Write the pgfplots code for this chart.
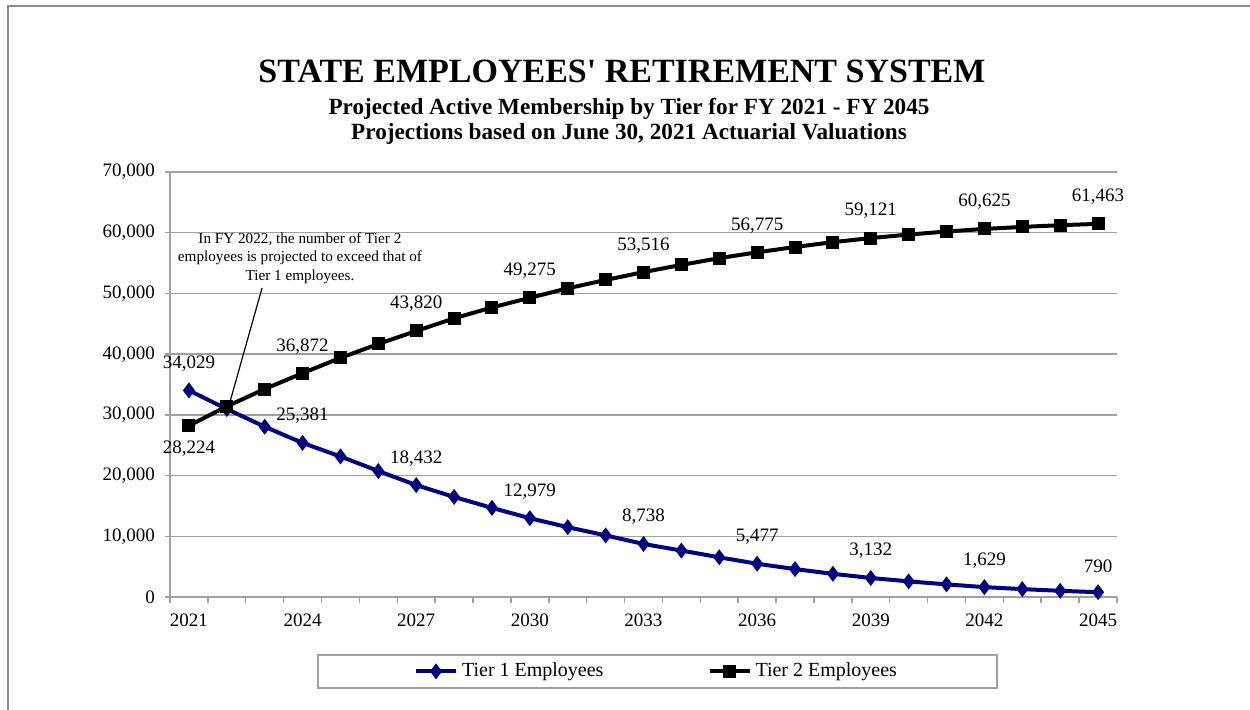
\documentclass[border=0pt]{standalone}
\usepackage{fontspec}
\setmainfont{Liberation Serif}
\usepackage{pgfplots}
\pgfplotsset{compat=1.18}
\usepackage{pgfplotstable}

\definecolor{tierone}{HTML}{000080}
\definecolor{gridgray}{HTML}{A0A0A0}
\definecolor{framegray}{HTML}{8C8C8C}

% active members by tier, labels on every third year
\pgfplotstableread{
year t1 l1 t2 l2
2021 34029 34,029 28224 {}
2022 30960 {} 31400 {}
2023 28050 {} 34250 {}
2024 25381 25,381 36872 36,872
2025 23150 {} 39380 {}
2026 20750 {} 41680 {}
2027 18432 18,432 43820 43,820
2028 16480 {} 45900 {}
2029 14680 {} 47700 {}
2030 12979 12,979 49275 49,275
2031 11500 {} 50850 {}
2032 10150 {} 52220 {}
2033 8738 8,738 53516 53,516
2034 7650 {} 54700 {}
2035 6540 {} 55820 {}
2036 5477 5,477 56775 56,775
2037 4600 {} 57650 {}
2038 3820 {} 58450 {}
2039 3132 3,132 59121 59,121
2040 2580 {} 59700 {}
2041 2080 {} 60200 {}
2042 1629 1,629 60625 60,625
2043 1300 {} 60960 {}
2044 1020 {} 61240 {}
2045 790 790 61463 61,463
}\members

\pgfplotstableread{
year t2 l2
2021 28224 28,224
}\firstlabel

\begin{document}
\begin{tikzpicture}
\useasboundingbox (0,0) rectangle (625pt,-354.5pt);
\draw[framegray, line width=0.7pt] (4pt,-3pt) rectangle (700pt,-420pt);

\node[anchor=base, font=\bfseries\fontsize{17}{20}\selectfont] at (311pt,-41pt)
  {STATE EMPLOYEES\textquotesingle\ RETIREMENT SYSTEM};
\node[anchor=base, font=\bfseries\fontsize{11.6}{13}\selectfont] at (314.5pt,-57pt)
  {Projected Active Membership by Tier for FY 2021 - FY 2045};
\node[anchor=base, font=\bfseries\fontsize{11.6}{13}\selectfont] at (314.5pt,-69.5pt)
  {Projections based on June 30, 2021 Actuarial Valuations};

\begin{axis}[
  at={(85pt,-298.5pt)}, anchor=south west,
  scale only axis, width=473.5pt, height=212.5pt,
  xmin=2020.5, xmax=2045.5, ymin=0, ymax=70000,
  xtick={2021,2024,...,2045},
  minor xtick={2020.5,2021.5,...,2045.5},
  ytick={0,10000,...,70000},
  scaled y ticks=false,
  xticklabel style={/pgf/number format/1000 sep={}, yshift=-2.5pt},
  yticklabel style={/pgf/number format/1000 sep={,}, xshift=-1.5pt},
  /pgf/number format/assume math mode=true,
  tick label style={font=\fontsize{9.5}{11}\selectfont},
  axis x line*=bottom, axis y line*=left,
  axis line style={gridgray, line width=0.75pt},
  ymajorgrids, grid style={gridgray, line width=0.75pt},
  tick align=outside,
  major tick length=2.5pt, minor tick length=3pt,
  major x tick style={draw=none},
  minor x tick style={gridgray, line width=0.75pt},
  major y tick style={gridgray, line width=0.75pt},
  clip=false,
  legend columns=2,
  legend style={at={(0.5148,-0.175)}, anchor=center, draw=gridgray,
    line width=0.75pt, inner xsep=48pt, inner ysep=2pt,
    font=\fontsize{10}{12}\selectfont, cells={anchor=west},
    /tikz/every even column/.append style={column sep=50pt}},
  legend image code/.code={\draw[mark repeat=2,mark phase=2,#1]
    plot coordinates {(0pt,0pt) (10pt,0pt) (20pt,0pt)};},
  point meta=explicit symbolic,
  nodes near coords={\pgfplotspointmeta},
  every node near coord/.append style={text=black,
    font=\fontsize{9.5}{11}\selectfont, anchor=south, yshift=6pt},
]
\addplot[tierone, line width=2pt, mark=diamond*, mark size=3.6pt,
  mark options={solid, line width=0.5pt}]
  table[x=year, y=t1, meta=l1] {\members};
\addlegendentry{Tier 1 Employees}
\addplot[black, line width=2pt, mark=square*, mark size=3pt,
  mark options={solid, line width=0.5pt}]
  table[x=year, y=t2, meta=l2] {\members};
\addlegendentry{Tier 2 Employees}
\addplot[draw=none, forget plot,
  every node near coord/.append style={anchor=north, yshift=-10pt}]
  table[x=year, y=t2, meta=l2] {\firstlabel};

\node[align=center, font=\fontsize{7.6}{9.25}\selectfont]
  at (axis cs:2023.93,55830)
  {In FY 2022, the number of Tier 2\\employees is projected to exceed that of\\Tier 1 employees.};
\draw[black, line width=0.6pt] (axis cs:2022.93,50900) -- (axis cs:2022.06,31620);
\end{axis}
\end{tikzpicture}
\end{document}
